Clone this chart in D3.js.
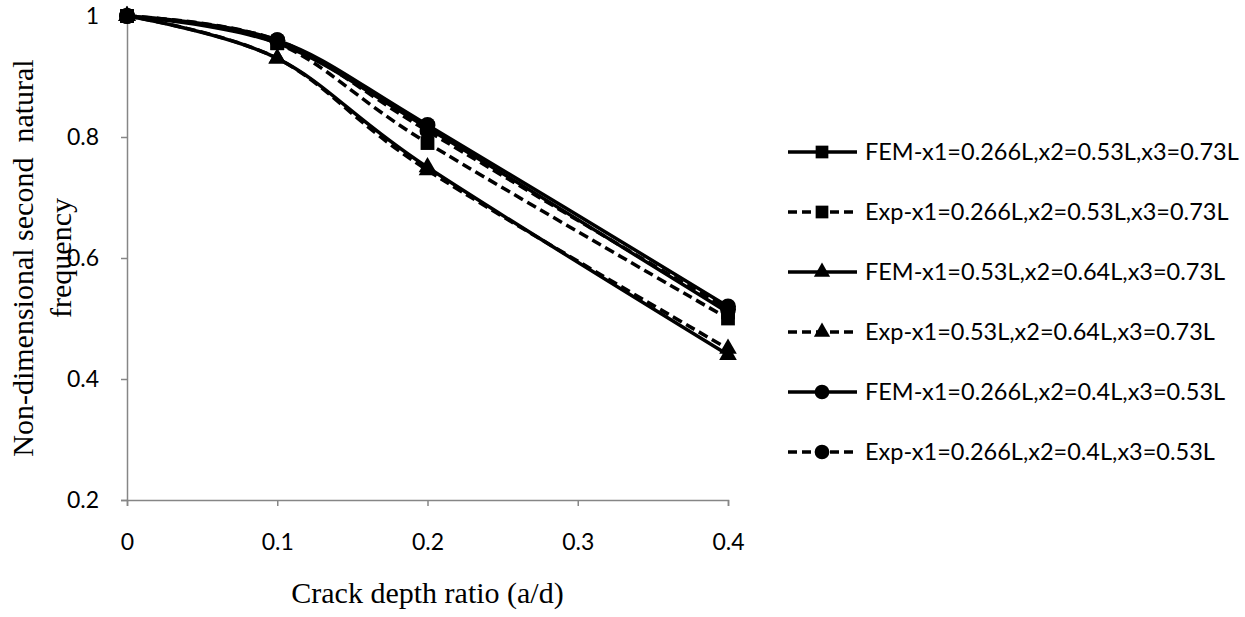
<!DOCTYPE html>
<html><head><meta charset="utf-8">
<script src="https://cdn.jsdelivr.net/npm/d3@7"></script>
<style>body{margin:0;background:#fff;} svg{display:block;}</style>
</head><body>
<svg id="chart" width="1245" height="617"></svg>
<script>
const crackRatio = [0, 0.1, 0.2, 0.4];
const femA = [1, 0.955, 0.815, 0.51];
const expA = [1, 0.955, 0.79, 0.50];
const femB = [1, 0.93, 0.75, 0.44];
const expB = [1, 0.93, 0.745, 0.45];
const femC = [1, 0.96, 0.82, 0.52];
const expC = [1, 0.96, 0.81, 0.515];
const seriesNames = [
  "FEM-x1=0.266L,x2=0.53L,x3=0.73L",
  "Exp-x1=0.266L,x2=0.53L,x3=0.73L",
  "FEM-x1=0.53L,x2=0.64L,x3=0.73L",
  "Exp-x1=0.53L,x2=0.64L,x3=0.73L",
  "FEM-x1=0.266L,x2=0.4L,x3=0.53L",
  "Exp-x1=0.266L,x2=0.4L,x3=0.53L"
];
const seriesMarkers = ["square","square","triangle","triangle","circle","circle"];
const seriesDashed = [false,true,false,true,false,true];
const xTicks = [0, 0.1, 0.2, 0.3, 0.4];
const yTicks = [0.2, 0.4, 0.6, 0.8, 1];
const xTitle = "Crack depth ratio (a/d)";
const yTitleLines = ["Non-dimensional second  natural", "frequency"];

const seriesValues = [femA, expA, femB, expB, femC, expC];
const svg = d3.select("#chart");
const pLeft = 127, pRight = 728, pTop = 16, pBottom = 500;
const x = d3.scaleLinear().domain([0, 0.4]).range([pLeft, pRight]);
const y = d3.scaleLinear().domain([0.2, 1]).range([pBottom, pTop]);
const axisColor = "#868686";
const tickFont = "Lato, 'Open Sans', sans-serif";

// axes
const xAxis = svg.append("g").attr("transform", `translate(0,${pBottom})`)
  .call(d3.axisBottom(x).tickValues(xTicks).tickFormat(d3.format("")).tickSizeOuter(0).tickSize(6));
const yAxis = svg.append("g").attr("transform", `translate(${pLeft},0)`)
  .call(d3.axisLeft(y).tickValues(yTicks).tickFormat(d3.format("")).tickSizeOuter(0).tickSize(6).tickPadding(22));
[xAxis, yAxis].forEach(g => {
  g.select(".domain").attr("stroke", axisColor).attr("stroke-width", 1.5);
  g.selectAll(".tick line").attr("stroke", axisColor).attr("stroke-width", 1.5);
  g.selectAll(".tick text").attr("fill", "#000").style("font-family", tickFont).style("font-size", "23px");
});
xAxis.selectAll(".tick text").attr("dy", "0.35em").attr("y", 42);

// titles
svg.append("text").attr("x", (pLeft + pRight) / 2).attr("y", 603).attr("text-anchor", "middle")
  .style("font-family", "'Liberation Serif', 'Times New Roman', serif").style("font-size", "30px").text(xTitle);
const yt = svg.append("text").attr("transform", `translate(33,${(pTop + pBottom) / 2}) rotate(-90)`)
  .attr("text-anchor", "middle").style("font-family", "'Liberation Serif', 'Times New Roman', serif")
  .style("font-size", "30px").style("white-space", "pre");
yTitleLines.forEach((t, i) => yt.append("tspan").attr("x", 0).attr("dy", i === 0 ? 0 : 38).text(t));

// markers
function markerPath(type, scale) {
  const k = scale || 1;
  if (type === "square") return d3.symbol(d3.symbolSquare, 190 * k)();
  if (type === "circle") return d3.symbol(d3.symbolCircle, 200 * k)();
  return d3.symbol(d3.symbolTriangle, 135 * k)();
}

const line = d3.line().x((d, i) => x(crackRatio[i])).y(d => y(d)).curve(d3.curveCardinal.tension(0));
seriesValues.forEach((vals, s) => {
  svg.append("path").attr("d", line(vals)).attr("fill", "none").attr("stroke", "#000")
    .attr("stroke-width", 3.5).attr("stroke-dasharray", seriesDashed[s] ? "10,5" : null);
  svg.append("g").selectAll("path").data(vals).join("path")
    .attr("d", markerPath(seriesMarkers[s]))
    .attr("transform", (d, i) => `translate(${x(crackRatio[i])},${y(d)})`)
    .attr("fill", "#000");
});

// legend
const legY0 = 152, legStep = 60;
seriesNames.forEach((name, s) => {
  const g = svg.append("g").attr("transform", `translate(788,${legY0 + s * legStep})`);
  g.append("line").attr("x1", 0).attr("x2", 69).attr("y1", 0).attr("y2", 0)
    .attr("stroke", "#000").attr("stroke-width", 3.5).attr("stroke-dasharray", seriesDashed[s] ? "9,5" : null);
  g.append("path").attr("d", markerPath(seriesMarkers[s], 0.85)).attr("transform", "translate(34,0)").attr("fill", "#000");
  g.append("text").attr("x", 77).attr("y", 0).attr("dy", "0.35em")
    .style("font-family", tickFont).style("font-size", "23.5px").text(name);
});
</script>
</body></html>
